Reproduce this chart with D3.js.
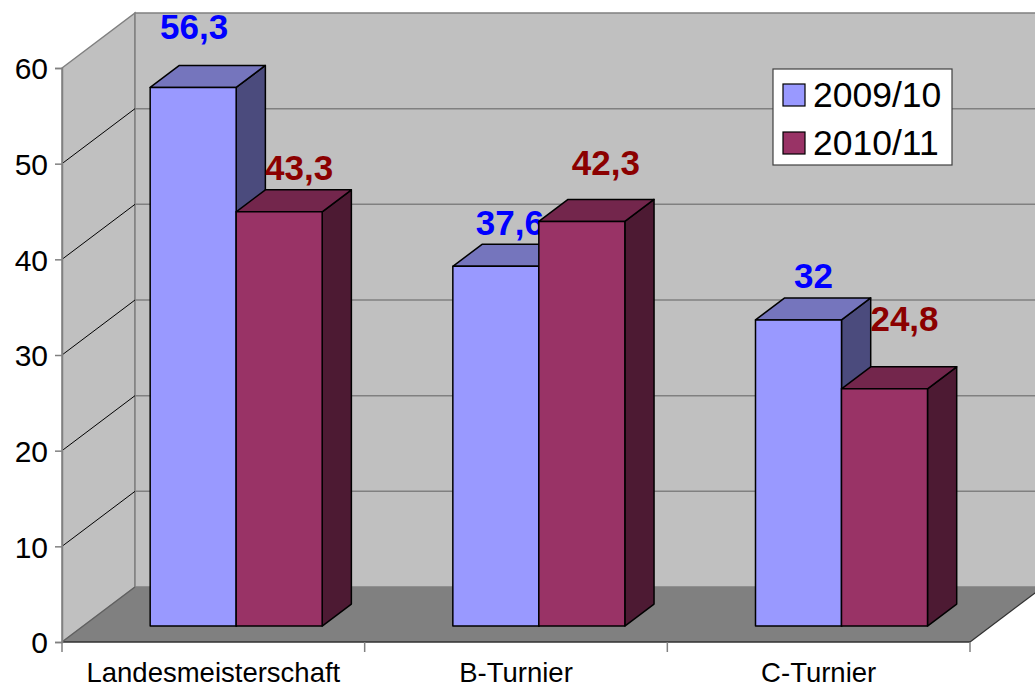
<!DOCTYPE html>
<html><head><meta charset="utf-8">
<script src="https://cdn.jsdelivr.net/npm/d3@7/dist/d3.min.js"></script>
<style>html,body{margin:0;padding:0;background:#fff;}svg{display:block;}</style>
</head><body>
<svg id="c" width="1035" height="689"></svg>
<script>
// ---- data ----
const categories = ["Landesmeisterschaft", "B-Turnier", "C-Turnier"];
const seriesNames = ["2009/10", "2010/11"];
const values2009 = [56.3, 37.6, 32];
const values2010 = [43.3, 42.3, 24.8];
const valueLabels2009 = ["56,3", "37,6", "32"];
const valueLabels2010 = ["43,3", "42,3", "24,8"];
const yTicks = [0, 10, 20, 30, 40, 50, 60];

// ---- layout / style ----
const FONT = "Arial, 'Liberation Sans', sans-serif";
const frontStyles = [
  {front: "#9999FF", top: "#7575BD", side: "#4B4B7D", label: "#0000FF"},
  {front: "#993366", top: "#73264C", side: "#4D1A33", label: "#8B0000"}
];
// manual nudges of value labels (dx from bar front centre, dy from bar back-top)
const labelNudge = [
  [[1, -26], [20, -10]],
  [[14, -9], [24, -24]],
  [[15, -10], [20, -36]]
];

const svg = d3.select("#c");
const DX = 73, DY = -55;                 // full depth offset
const proj = (x, y, z) => [x + DX * z, y + DY * z];
const zBar0 = 0.29, zBar1 = 0.69;

const y = d3.scaleLinear().domain([0, 60]).range([642, 68]);
const x = d3.scaleBand().domain(categories).range([62, 970]).padding(0);
const xs = d3.scaleBand().domain(seriesNames).range([67, 67 + 172]).padding(0);

const poly = pts => pts.map(p => p.join(",")).join(" ");

// side wall
svg.append("polygon")
  .attr("points", poly([proj(62, y(60), 0), proj(62, y(60), 1), proj(62, y(0), 1), proj(62, y(0), 0)]))
  .attr("fill", "#C0C0C0").attr("stroke", "#808080").attr("stroke-width", 1.5);
// back wall
const xRight = x.range()[1];
svg.append("polygon")
  .attr("points", poly([proj(62, y(60), 1), proj(xRight, y(60), 1), proj(xRight, y(0), 1), proj(62, y(0), 1)]))
  .attr("fill", "#C0C0C0").attr("stroke", "#808080").attr("stroke-width", 1.5);

// gridlines
yTicks.filter(v => v > 0 && v < 60).forEach(v => {
  const a = proj(62, y(v), 0), b = proj(62, y(v), 1), c = proj(xRight, y(v), 1);
  svg.append("line").attr("x1", a[0]).attr("y1", a[1]).attr("x2", b[0]).attr("y2", b[1])
    .attr("stroke", "#000").attr("stroke-width", 1);
  svg.append("line").attr("x1", b[0]).attr("y1", b[1]).attr("x2", c[0]).attr("y2", c[1])
    .attr("stroke", "#808080").attr("stroke-width", 1.5);
});

// floor
svg.append("polygon")
  .attr("points", poly([proj(62, y(0), 0), proj(xRight, y(0), 0), proj(xRight, y(0), 1), proj(62, y(0), 1)]))
  .attr("fill", "#808080");
svg.append("line").attr("x1", 62).attr("y1", y(0)).attr("x2", xRight).attr("y2", y(0))
  .attr("stroke", "#303030").attr("stroke-width", 1.5);
{
  const a = proj(xRight, y(0), 0), b = proj(xRight, y(0), 1);
  svg.append("line").attr("x1", a[0]).attr("y1", a[1]).attr("x2", b[0]).attr("y2", b[1])
    .attr("stroke", "#303030").attr("stroke-width", 1.2);
  const c = proj(62, y(0), 0), d = proj(62, y(0), 1);
  svg.append("line").attr("x1", c[0]).attr("y1", c[1]).attr("x2", d[0]).attr("y2", d[1])
    .attr("stroke", "#606060").attr("stroke-width", 1.2);
}

// y axis
const yAxis = d3.axisLeft(y).tickValues(yTicks).tickSize(7).tickPadding(7).tickFormat(d3.format("d"));
const gy = svg.append("g").attr("transform", "translate(62,0)").call(yAxis);
gy.select(".domain").attr("stroke", "#808080").attr("stroke-width", 1.5);
gy.selectAll(".tick line").attr("stroke", "#808080").attr("stroke-width", 1.5);
gy.selectAll(".tick text").attr("font-family", FONT).attr("font-size", 30).attr("fill", "#000").attr("dy", "0.36em");

// x axis
const xAxis = d3.axisBottom(x).tickSize(0).tickPadding(20);
const gx = svg.append("g").attr("transform", `translate(0,${y(0)})`).call(xAxis);
gx.select(".domain").remove();
gx.selectAll(".tick text").attr("font-family", FONT).attr("font-size", 27.5).attr("fill", "#000");
const edges = categories.map(c => x(c)).concat([xRight]);
svg.selectAll("line.xt").data(edges).enter().append("line")
  .attr("x1", d => d).attr("x2", d => d).attr("y1", y(0)).attr("y2", y(0) + 10)
  .attr("stroke", "#808080").attr("stroke-width", 1.5);

// bars
const allValues = [values2009, values2010];
const allLabels = [valueLabels2009, valueLabels2010];
seriesNames.forEach((s, si) => {
  const st = frontStyles[si];
  const g = svg.append("g");
  categories.forEach((c, ci) => {
    const v = allValues[si][ci];
    const xl = x(c) + xs(s), xr = xl + xs.bandwidth();
    const y0 = y(0), y1 = y(v);
    const f = [proj(xl, y1, zBar0), proj(xr, y1, zBar0), proj(xr, y0, zBar0), proj(xl, y0, zBar0)];
    const top = [proj(xl, y1, zBar0), proj(xl, y1, zBar1), proj(xr, y1, zBar1), proj(xr, y1, zBar0)];
    const side = [proj(xr, y1, zBar0), proj(xr, y1, zBar1), proj(xr, y0, zBar1), proj(xr, y0, zBar0)];
    g.append("polygon").attr("points", poly(side)).attr("fill", st.side).attr("stroke", "#000").attr("stroke-width", 1.5).attr("stroke-linejoin", "round");
    g.append("polygon").attr("points", poly(top)).attr("fill", st.top).attr("stroke", "#000").attr("stroke-width", 1.5).attr("stroke-linejoin", "round");
    g.append("polygon").attr("points", poly(f)).attr("fill", st.front).attr("stroke", "#000").attr("stroke-width", 1.5).attr("stroke-linejoin", "round");
  });
  categories.forEach((c, ci) => {
    const v = allValues[si][ci];
    const xl = x(c) + xs(s), xr = xl + xs.bandwidth();
    const cx = proj((xl + xr) / 2, y(v), zBar0)[0];
    const by = proj(xl, y(v), zBar1)[1];
    const n = labelNudge[ci][si];
    g.append("text").attr("x", cx + n[0]).attr("y", by + n[1])
      .attr("text-anchor", "middle").attr("font-family", FONT).attr("font-weight", "bold")
      .attr("font-size", 35).attr("fill", st.label).text(allLabels[si][ci]);
  });
});

// legend
const lg = svg.append("g").attr("transform", "translate(773,69)");
lg.append("rect").attr("width", 179).attr("height", 96).attr("fill", "#fff").attr("stroke", "#404040").attr("stroke-width", 1.2);
seriesNames.forEach((s, i) => {
  const yy = 15 + i * 48;
  lg.append("rect").attr("x", 10).attr("y", yy).attr("width", 22).attr("height", 22)
    .attr("fill", frontStyles[i].front).attr("stroke", "#000").attr("stroke-width", 1.2);
  lg.append("text").attr("x", 40).attr("y", yy + 23).attr("font-family", FONT).attr("font-size", 35.5)
    .attr("fill", "#000").text(s);
});
</script>
</body></html>
